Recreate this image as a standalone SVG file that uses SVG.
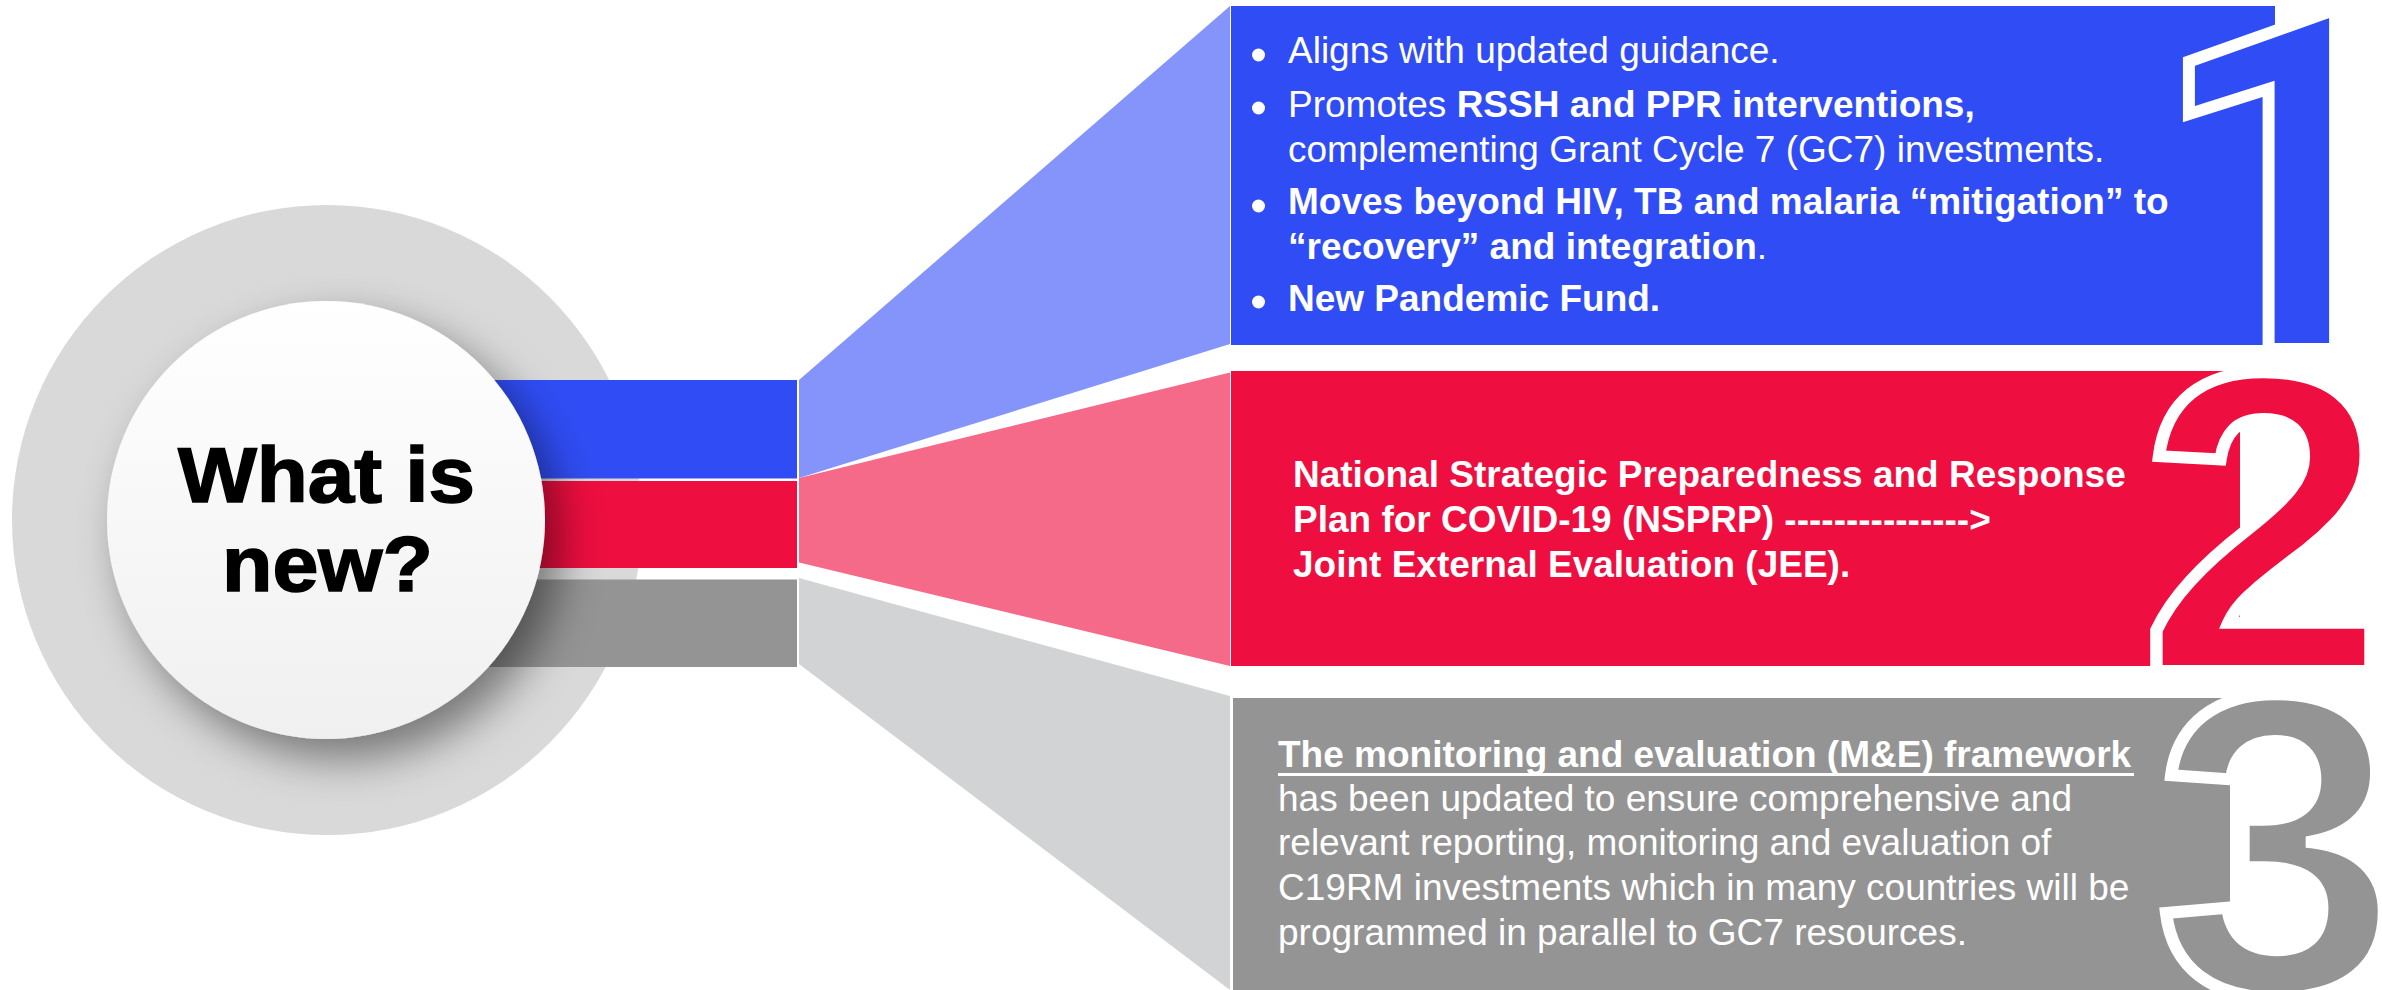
<svg xmlns="http://www.w3.org/2000/svg" width="2382" height="990" viewBox="0 0 2382 990">
<defs>
<style>
.t{font-family:"Liberation Sans",Arial,sans-serif;fill:#fff;font-size:37px}
.b{font-weight:bold}
.digit{font-family:"Liberation Sans",Arial,sans-serif;font-weight:bold;stroke:#fff;stroke-width:12;stroke-linejoin:miter}
.one{font-family:Roboto,"Liberation Sans",sans-serif}
.title{font-family:"Liberation Sans",Arial,sans-serif;font-weight:bold;font-size:77px;fill:#000;stroke:#000;stroke-width:1.5}
</style>
<linearGradient id="innerFill" x1="0" y1="0" x2="0" y2="1">
<stop offset="0" stop-color="#ffffff"/>
<stop offset="1" stop-color="#f0f0f0"/>
</linearGradient>
<filter id="shadow" x="-40%" y="-40%" width="180%" height="180%">
<feDropShadow dx="16" dy="20" stdDeviation="22" flood-color="#000" flood-opacity="0.45"/>
</filter>
</defs>
<rect width="2382" height="990" fill="#fff"/>

<g id="center-ring">
<circle cx="327" cy="520" r="315" fill="#d9d9d9"/>
</g>

<g id="connectors">
<rect x="400" y="380" width="397" height="98.5" fill="#304df5"/>
<rect x="400" y="481" width="397" height="87" fill="#ee0e40"/>
<rect x="400" y="579.5" width="397" height="87.5" fill="#949494"/>
<polygon points="799,380 1230,6 1230,344 799,478" fill="#8494fa"/>
<polygon points="799,478 1230,372.5 1230,666 799,562.5" fill="#f66a89"/>
<polygon points="799,578 1230,696 1230,990 799,664" fill="#d2d3d5"/>
</g>

<g id="center">
<circle cx="326" cy="520" r="219" fill="url(#innerFill)" filter="url(#shadow)"/>
<text class="title" x="178" y="502" textLength="297" lengthAdjust="spacingAndGlyphs">What is</text>
<text class="title" x="222" y="591" textLength="211" lengthAdjust="spacingAndGlyphs">new?</text>
</g>

<g id="item-1">
<rect x="1231" y="6" width="1044" height="339" fill="#304df5"/>
<text class="digit one" x="2150" y="349" font-size="473" fill="#304df5">1</text>
<circle cx="1258.5" cy="55" r="6.5" fill="#fff"/>
<circle cx="1258.5" cy="108" r="6.5" fill="#fff"/>
<circle cx="1258.5" cy="206" r="6.5" fill="#fff"/>
<circle cx="1258.5" cy="302" r="6.5" fill="#fff"/>
<text class="t" x="1288" y="63">Aligns with updated guidance.</text>
<text class="t" x="1288" y="117">Promotes <tspan class="b">RSSH and PPR interventions,</tspan></text>
<text class="t" x="1288" y="162">complementing Grant Cycle 7 (GC7) investments.</text>
<text class="t b" x="1288" y="214">Moves beyond HIV, TB and malaria “mitigation” to</text>
<text class="t" x="1288" y="259"><tspan class="b">“recovery” and integration</tspan>.</text>
<text class="t b" x="1288" y="311">New Pandemic Fund.</text>
</g>

<g id="item-2">
<rect x="1231" y="371" width="1009" height="295" fill="#ee0e40"/>
<text class="digit" transform="translate(2141,671) scale(1.039,1)" x="0" y="0" font-size="428" fill="#ee0e40">2</text>
<text class="t b" x="1293" y="487">National Strategic Preparedness and Response</text>
<text class="t b" x="1293" y="532">Plan for COVID-19 (NSPRP) ---------------&gt;</text>
<text class="t b" x="1293" y="577">Joint External Evaluation (JEE).</text>
</g>

<g id="item-3">
<rect x="1233" y="698" width="997" height="292" fill="#949494"/>
<text class="digit" transform="translate(2156,993) scale(1.024,1)" x="0" y="0" font-size="428" fill="#949494">3</text>
<text class="t b" x="1278" y="767">The monitoring and evaluation (M&amp;E) framework</text>
<line x1="1278" y1="774.5" x2="2134" y2="774.5" stroke="#fff" stroke-width="3"/>
<text class="t" x="1278" y="811">has been updated to ensure comprehensive and</text>
<text class="t" x="1278" y="855">relevant reporting, monitoring and evaluation of</text>
<text class="t" x="1278" y="900">C19RM investments which in many countries will be</text>
<text class="t" x="1278" y="945">programmed in parallel to GC7 resources.</text>
</g>
</svg>
